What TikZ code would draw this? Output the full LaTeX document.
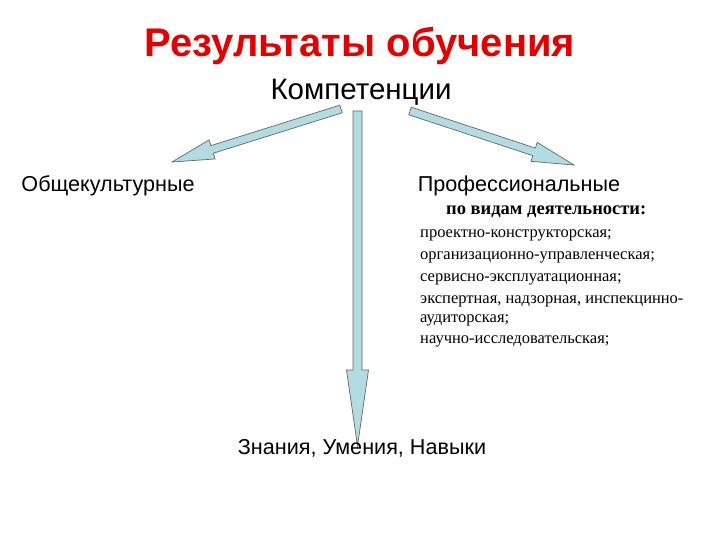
\documentclass[tikz,border=0pt]{standalone}
\usepackage{fontspec}
\setmainfont{Liberation Serif}
\setsansfont{Liberation Sans}
\usetikzlibrary{calc}
\definecolor{arrfill}{RGB}{178,220,226}
\tikzset{arr/.style={draw=black!60,fill=arrfill,line width=0.7pt},
 lab/.style={font=\sffamily\fontsize{21.6}{24}\selectfont,inner sep=0pt},
 item/.style={font=\fontsize{16.5}{18}\selectfont,anchor=west,inner sep=0pt}}
\newcommand\barrow[5]{\draw[arr] let \p1=(#1), \p2=(#2), \n1={atan2(\y2-\y1,\x2-\x1)}, \n2={veclen(\x2-\x1,\y2-\y1)} in [shift={(\p1)}, rotate=\n1] (0,-#3) -- (\n2-#5,-#3) -- (\n2-#5,-#4) -- (\n2,0) -- (\n2-#5,#4) -- (\n2-#5,#3) -- (0,#3) -- cycle;}
\begin{document}
\begin{tikzpicture}[x=1pt,y=-1pt]
\useasboundingbox (0,0) rectangle (720,540);
\coordinate (la) at (341,109); \coordinate (lb) at (172,162);
\coordinate (ra) at (410,111); \coordinate (rb) at (574,165);
\coordinate (da) at (357.5,111); \coordinate (db) at (357.5,446);
\barrow{la}{lb}{4}{10}{42}
\barrow{ra}{rb}{4}{10}{42}
\barrow{da}{db}{4.5}{11}{76}
\node[font=\sffamily\bfseries\fontsize{40}{44}\selectfont,text=red!90!black] (t) at (360,46) {Результаты обучения};
\node[lab,font=\sffamily\fontsize{29.5}{32}\selectfont] (k) at (361,92) {Компетенции};
\node[lab] (o) at (108,186) {Общекультурные};
\node[lab] (p) at (519,186) {Профессиональные};
\node[item,font=\bfseries\fontsize{18.5}{20}\selectfont] (v) at (446,212) {по видам деятельности:};
\node[item] (i1) at (420,235) {проектно-конструкторская;};
\node[item] (i2) at (420,257) {организационно-управленческая;};
\node[item] (i3) at (420,279) {сервисно-эксплуатационная;};
\node[item] (i4) at (420,301) {экспертная, надзорная, инспекцинно-};
\node[item] (i5) at (420,320) {аудиторская;};
\node[item] (i6) at (420,341) {научно-исследовательская;};
\node[lab] (z) at (362,448) {Знания, Умения, Навыки};
\end{tikzpicture}
\end{document}
